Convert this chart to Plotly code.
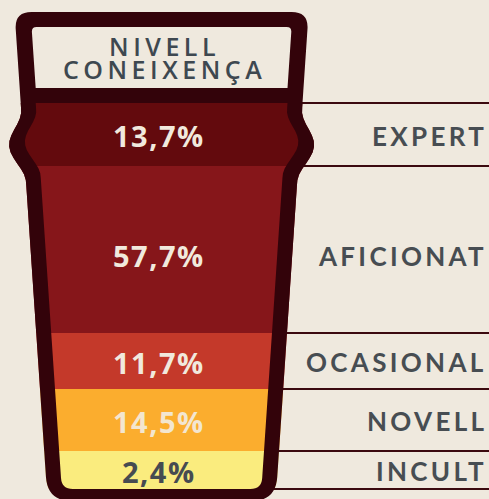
import math
import plotly.graph_objects as go

# ---------------- data ----------------
categories = ["EXPERT", "AFICIONAT", "OCASIONAL", "NOVELL", "INCULT"]
values = [13.7, 57.7, 11.7, 14.5, 2.4]
title_lines = ["NIVELL", "CONEIXENÇA"]

# ---------------- layout / style constants ----------------
W, H = 489, 499
BG = "#EFE9DE"
DARK = "#33030A"
band_colors = ["#630A0D", "#86161A", "#C4392A", "#FBAD2E", "#FAEC7E"]
pct_colors = ["#F1E9DD", "#F1E9DD", "#F1E9DD", "#F3E6D0", "#464B51"]
TEXT_GREY = "#474D52"

band_top = 103.0                                 # top of first band (px axis units)
band_heights_display = [63, 167, 56, 62, 38]     # display heights of the bands in the glass
text_adjust = [1, 6, 1, 1, 1]

CX = 161.6


def hw_in(y):
    """inner half width of the glass (taper)"""
    return 120.7 + (180.0 - y) * 0.0675


def bump(y, c, w, a):
    d = y - c
    if abs(d) >= w:
        return 0.0
    return a * (1 + math.cos(math.pi * d / w)) / 2


def inner_band_hw(y):
    return hw_in(y) + bump(y, 143, 33, 13.5)


def outer_hw(y):
    return hw_in(y) + 15 + bump(y, 146, 36, 14.5)


def header_hw(y):
    return hw_in(y) - 1.0


def rounded_path(f, y0, y1, rt, rb, n=80):
    ht = f(y0)
    s = f"M {CX - ht + rt:.2f},{y0:.2f} L {CX + ht - rt:.2f},{y0:.2f} "
    if rt > 0:
        s += f"Q {CX + ht:.2f},{y0:.2f} {CX + f(y0 + rt):.2f},{y0 + rt:.2f} "
    ys = [y0 + rt + (y1 - rb - y0 - rt) * i / n for i in range(n + 1)]
    for y in ys:
        s += f"L {CX + f(y):.2f},{y:.2f} "
    hb = f(y1)
    if rb > 0:
        s += f"Q {CX + hb:.2f},{y1:.2f} {CX + hb - rb:.2f},{y1:.2f} "
    s += f"L {CX - hb + rb:.2f},{y1:.2f} "
    if rb > 0:
        s += f"Q {CX - hb:.2f},{y1:.2f} {CX - f(y1 - rb):.2f},{y1 - rb:.2f} "
    for y in reversed(ys):
        s += f"L {CX - f(y):.2f},{y:.2f} "
    if rt > 0:
        s += f"Q {CX - ht:.2f},{y0:.2f} {CX - ht + rt:.2f},{y0:.2f} "
    s += "Z "
    return s


tops = []
acc = band_top
for h in band_heights_display:
    tops.append(acc)
    acc += h
band_bottom = acc

outer_p = rounded_path(outer_hw, 12, 501, 17, 24)
inner_p = rounded_path(inner_band_hw, band_top, band_bottom, 0, 11)
header_p = rounded_path(header_hw, 27, 88, 5, 0)

fig = go.Figure()
fig.add_trace(go.Bar(
    x=[CX] * len(values),
    y=band_heights_display,
    base=tops,
    width=330,
    marker=dict(color=band_colors, line=dict(width=0)),
    hoverinfo="skip",
    showlegend=False,
))

shapes = []
shapes.append(dict(type="path", xref="x", yref="y", layer="above",
                   path="M -20,-20 L 520,-20 L 520,530 L -20,530 Z " + outer_p,
                   fillcolor=BG, fillrule="evenodd", line=dict(width=0)))
for yb in tops + [band_bottom]:
    x0 = CX + inner_band_hw(yb) + 4
    shapes.append(dict(type="line", xref="x", yref="y", layer="above",
                       x0=x0, x1=W + 5, y0=yb, y1=yb,
                       line=dict(color="#3B0A0F", width=2)))
shapes.append(dict(type="path", xref="x", yref="y", layer="above",
                   path=outer_p + inner_p + header_p,
                   fillcolor=DARK, fillrule="evenodd", line=dict(width=0)))

annotations = []
for i, (cat, v) in enumerate(zip(categories, values)):
    yc = tops[i] + band_heights_display[i] / 2 + text_adjust[i]
    label = f"{v:.1f}".replace(".", ",") + "%"
    annotations.append(dict(
        x=159, y=yc, xref="x", yref="y", showarrow=False,
        text=f'<span style="letter-spacing:1.5px">{label}</span>',
        font=dict(family="Open Sans", size=29, color=pct_colors[i], weight=700),
        xanchor="center", yanchor="middle"))
    annotations.append(dict(
        x=489, y=yc, xref="x", yref="y", showarrow=False,
        text=f'<span style="letter-spacing:3.3px">{cat}</span>',
        font=dict(family="Lato", size=26, color=TEXT_GREY, weight=700),
        xanchor="right", yanchor="middle"))

title_html = "<br>".join(
    f'<span style="font-size:25px;letter-spacing:4.5px">{t}</span>' for t in title_lines)
annotations.append(dict(
    x=164, y=57.5, xref="x", yref="y", showarrow=False,
    text=title_html,
    font=dict(family="Open Sans", size=17.7, color="#3E4850", weight=600),
    xanchor="center", yanchor="middle"))

fig.update_layout(
    width=W, height=H,
    margin=dict(l=0, r=0, t=0, b=0),
    paper_bgcolor=BG, plot_bgcolor=BG,
    barmode="overlay",
    showlegend=False,
    xaxis=dict(range=[0, W], visible=False, fixedrange=True),
    yaxis=dict(range=[H, 0], visible=False, fixedrange=True),
    shapes=shapes,
    annotations=annotations,
)

fig.write_html(
    "out.html",
    config={"displayModeBar": False},
    post_script="document.body.style.margin='0';document.body.style.padding='0';"
                "document.body.style.overflow='hidden';"
                "document.documentElement.style.overflow='hidden';",
)
